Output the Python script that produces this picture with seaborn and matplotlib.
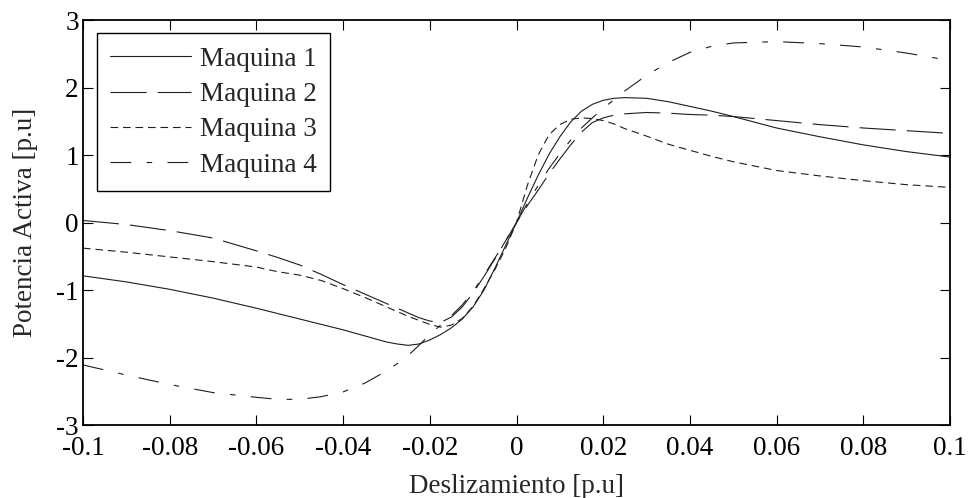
import seaborn as sns
import matplotlib
matplotlib.use("Agg")
import matplotlib.pyplot as plt
import pandas as pd
import numpy as np

# slip [p.u] (shared sampling for all machines)
deslizamiento = [-0.1, -0.09, -0.08, -0.07, -0.06, -0.055, -0.05, -0.045, -0.04, -0.035,
                 -0.03, -0.0275, -0.025, -0.0225, -0.02, -0.0175, -0.015, -0.0125, -0.01, -0.0075,
                 -0.005, -0.0025, 0.0, 0.0025, 0.005, 0.0075, 0.01, 0.0125, 0.015, 0.0175,
                 0.02, 0.0225, 0.025, 0.03, 0.035, 0.04, 0.045, 0.05, 0.06, 0.07,
                 0.08, 0.09, 0.1]

# active power [p.u]
maquina1 = [-0.79, -0.88, -0.99, -1.12, -1.27, -1.35, -1.43, -1.51, -1.59, -1.68,
            -1.77, -1.80, -1.82, -1.80, -1.74, -1.66, -1.56, -1.43, -1.25, -1.00,
            -0.68, -0.34, 0.00, 0.36, 0.70, 1.01, 1.27, 1.49, 1.65, 1.75,
            1.81, 1.84, 1.85, 1.84, 1.79, 1.72, 1.65, 1.57, 1.40, 1.27,
            1.15, 1.05, 0.97]
maquina2 = [0.03, -0.03, -0.12, -0.23, -0.42, -0.52, -0.63, -0.77, -0.92, -1.06,
            -1.20, -1.27, -1.34, -1.41, -1.46, -1.48, -1.40, -1.25, -1.04, -0.80,
            -0.54, -0.27, 0.00, 0.25, 0.48, 0.72, 0.94, 1.15, 1.34, 1.48,
            1.55, 1.59, 1.61, 1.63, 1.62, 1.60, 1.59, 1.57, 1.51, 1.45,
            1.40, 1.36, 1.32]
maquina3 = [-0.38, -0.44, -0.51, -0.58, -0.66, -0.73, -0.78, -0.86, -0.98, -1.11,
            -1.25, -1.32, -1.39, -1.45, -1.51, -1.55, -1.52, -1.42, -1.24, -0.98,
            -0.70, -0.38, 0.00, 0.55, 1.00, 1.30, 1.45, 1.53, 1.55, 1.54,
            1.51, 1.46, 1.39, 1.28, 1.16, 1.07, 0.98, 0.90, 0.77, 0.69,
            0.62, 0.56, 0.52]
maquina4 = [-2.11, -2.26, -2.40, -2.52, -2.59, -2.62, -2.62, -2.58, -2.51, -2.38,
            -2.20, -2.09, -1.97, -1.82, -1.66, -1.52, -1.38, -1.22, -1.02, -0.78,
            -0.53, -0.27, 0.00, 0.28, 0.55, 0.80, 1.02, 1.22, 1.40, 1.55,
            1.69, 1.82, 1.95, 2.18, 2.37, 2.52, 2.61, 2.66, 2.68, 2.65,
            2.60, 2.51, 2.40]

nombres = ["Maquina 1", "Maquina 2", "Maquina 3", "Maquina 4"]

frames = []
for nombre, vals in zip(nombres, [maquina1, maquina2, maquina3, maquina4]):
    frames.append(pd.DataFrame({"s": deslizamiento, "P": vals, "Maquina": nombre}))
df = pd.concat(frames, ignore_index=True)

sns.set_style("ticks")
plt.rcParams['font.family'] = ['Liberation Serif', 'DejaVu Serif']
plt.rcParams['axes.unicode_minus'] = False
plt.rcParams['lines.scale_dashes'] = False

fig = plt.figure(figsize=(9.69, 4.98), dpi=100)
fig.subplots_adjust(left=83/969, right=950/969, top=1-20/498, bottom=1-425/498)
ax = fig.add_subplot(111)

estilos = {"Maquina 1": "", "Maquina 2": (26, 8), "Maquina 3": (5.5, 3.5), "Maquina 4": (15, 11, 4, 11)}
sns.lineplot(data=df, x="s", y="P", style="Maquina", dashes=estilos, color="#1e1e1e",
             lw=0.8, sort=False, ax=ax, estimator=None)

ax.set_xlim(-0.1, 0.1)
ax.set_ylim(-3, 3)
ax.set_xticks(np.arange(-0.1, 0.1001, 0.02))
ax.set_yticks([-3, -2, -1, 0, 1, 2, 3])
ax.set_xticklabels(["-0.1", "-0.08", "-0.06", "-0.04", "-0.02", "0", "0.02", "0.04", "0.06", "0.08", "0.1"])
ax.set_yticklabels(["-3", "-2", "-1", "0", "1", "2", "3"])

for sp in ax.spines.values():
    sp.set_visible(True)
    sp.set_linewidth(1.3)
    sp.set_color("black")
ax.tick_params(direction="in", top=True, right=True, length=7, width=0.8,
               labelsize=19.5, colors="black")
ax.tick_params(axis="x", pad=8)
ax.tick_params(axis="y", pad=3)

ax.set_xlabel("Deslizamiento [p.u]", fontsize=19.5, labelpad=9)
ax.set_ylabel("Potencia Activa [p.u]", fontsize=19.5, labelpad=13)

sns.move_legend(ax, "upper left", bbox_to_anchor=(0.0158, 0.967), borderaxespad=0,
                title=None, fontsize=19.5, frameon=True, fancybox=False,
                edgecolor="black", framealpha=1, handlelength=3.0, handletextpad=0.3,
                labelspacing=0.38, borderpad=0.5)
ax.get_legend().get_frame().set_linewidth(1.0)

plt.savefig("out.png", dpi=100)
plt.close()
